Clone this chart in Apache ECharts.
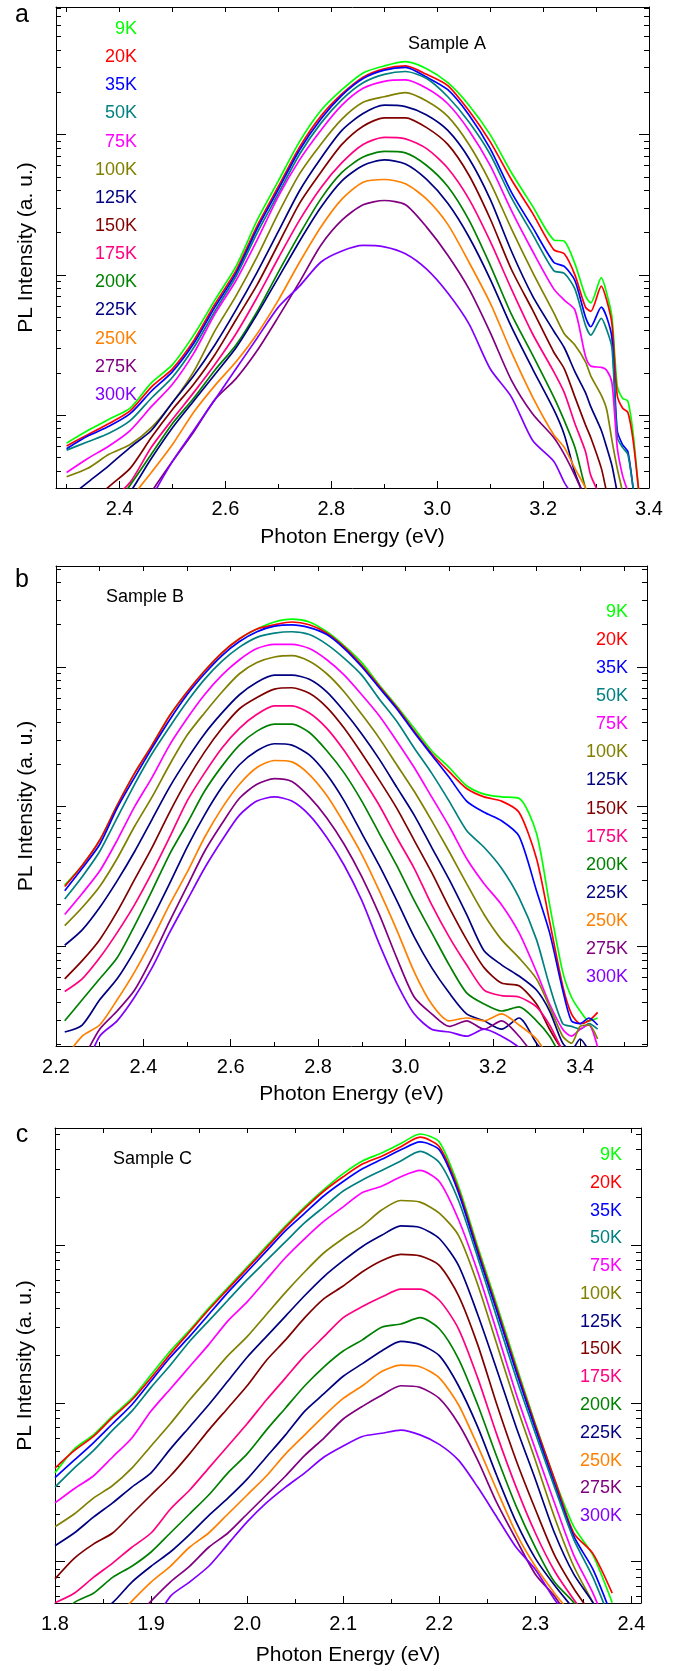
<!DOCTYPE html>
<html>
<head>
<meta charset="utf-8">
<title>PL spectra vs temperature</title>
<script src="https://cdn.jsdelivr.net/npm/echarts@6/dist/echarts.min.js"></script>
<style>
  html, body { margin: 0; padding: 0; background: #fff; }
  #main { width: 681px; height: 1671px; }
</style>
</head>
<body>
<div id="main"></div>
<script>
// temperatures and their line colours
var temps = ['9K', '20K', '35K', '50K', '75K', '100K', '125K', '150K', '175K', '200K', '225K', '250K', '275K', '300K'];
var colors = ['#00ff00', '#ff0000', '#0000ff', '#008080', '#ff00ff', '#808000', '#000080', '#800000', '#ff0080', '#008000', '#000080', '#ff8000', '#800080', '#8000ff'];

// ---- Sample A : photon energy (eV) and log10 PL intensity (a.u.) ----
var energyA = [2.30, 2.34, 2.38, 2.42, 2.46, 2.50, 2.54, 2.58, 2.62, 2.66, 2.70, 2.74, 2.78, 2.82, 2.86, 2.90, 2.94, 2.98, 3.02, 3.06, 3.10, 3.14, 3.18, 3.22, 3.24, 3.26, 3.28, 3.29, 3.31, 3.32, 3.33, 3.34, 3.35, 3.36, 3.37, 3.38, 3.39];
var A9   = [-0.20, -0.11, -0.03, 0.05, 0.23, 0.36, 0.57, 0.82, 1.06, 1.39, 1.67, 1.95, 2.17, 2.32, 2.44, 2.49, 2.52, 2.47, 2.37, 2.21, 2.00, 1.73, 1.49, 1.25, 1.24, 1.08, 0.85, 0.80, 0.98, 0.87, 0.70, 0.21, 0.12, 0.10, -0.13, -0.52, -0.90];
var A20  = [-0.22, -0.14, -0.06, 0.03, 0.20, 0.33, 0.53, 0.79, 1.03, 1.35, 1.63, 1.91, 2.13, 2.29, 2.41, 2.47, 2.49, 2.43, 2.35, 2.17, 1.95, 1.68, 1.44, 1.18, 1.15, 1.00, 0.77, 0.74, 0.92, 0.82, 0.65, 0.14, 0.05, 0.02, -0.18, -0.52, -0.90];
var A35  = [-0.24, -0.15, -0.08, 0.01, 0.17, 0.31, 0.51, 0.77, 1.01, 1.33, 1.61, 1.89, 2.11, 2.28, 2.40, 2.46, 2.48, 2.41, 2.32, 2.14, 1.90, 1.59, 1.34, 1.09, 1.06, 0.96, 0.70, 0.63, 0.77, 0.70, 0.55, -0.11, -0.21, -0.26, -0.52, -0.80, -1.00];
var A50  = [-0.25, -0.19, -0.13, -0.04, 0.12, 0.27, 0.48, 0.74, 0.99, 1.30, 1.58, 1.86, 2.08, 2.25, 2.37, 2.43, 2.45, 2.40, 2.27, 2.09, 1.86, 1.55, 1.29, 1.03, 1.01, 0.90, 0.64, 0.57, 0.69, 0.61, 0.48, -0.16, -0.23, -0.28, -0.52, -0.80, -1.00];
var A75  = [-0.41, -0.31, -0.22, -0.11, 0.06, 0.22, 0.44, 0.72, 0.96, 1.25, 1.56, 1.82, 2.03, 2.21, 2.33, 2.38, 2.39, 2.33, 2.22, 2.03, 1.78, 1.46, 1.17, 0.90, 0.82, 0.75, 0.42, 0.35, 0.34, 0.32, 0.23, -0.23, -0.43, -0.55, -0.80, -1.00, -1.20];
var A100 = [-0.44, -0.38, -0.28, -0.21, -0.09, 0.09, 0.31, 0.60, 0.85, 1.13, 1.44, 1.72, 1.93, 2.11, 2.23, 2.27, 2.30, 2.24, 2.13, 1.93, 1.66, 1.33, 1.02, 0.73, 0.58, 0.50, 0.38, 0.28, 0.14, 0.04, -0.18, -0.38, -0.55, -0.80, -1.00, -1.20, -1.40];
var A125 = [-0.60, -0.48, -0.36, -0.23, -0.11, 0.09, 0.28, 0.50, 0.75, 1.02, 1.31, 1.60, 1.83, 2.03, 2.15, 2.21, 2.20, 2.14, 2.03, 1.83, 1.54, 1.17, 0.85, 0.60, 0.48, 0.31, 0.16, 0.06, -0.11, -0.23, -0.36, -0.55, -0.70, -0.90, -1.10, -1.30, -1.50];
var A150 = [-0.80, -0.65, -0.51, -0.38, -0.16, 0.04, 0.22, 0.43, 0.68, 0.93, 1.22, 1.51, 1.73, 1.93, 2.06, 2.12, 2.12, 2.05, 1.93, 1.71, 1.40, 1.04, 0.75, 0.45, 0.33, 0.13, -0.07, -0.16, -0.38, -0.55, -0.70, -0.90, -1.10, -1.30, -1.50, -1.70, -1.90];
var A175 = [-0.90, -0.75, -0.62, -0.48, -0.23, -0.03, 0.16, 0.36, 0.58, 0.84, 1.12, 1.39, 1.62, 1.80, 1.93, 1.98, 1.97, 1.90, 1.76, 1.54, 1.24, 0.90, 0.58, 0.31, 0.16, -0.06, -0.26, -0.43, -0.60, -0.75, -0.90, -1.10, -1.30, -1.50, -1.70, -1.90, -2.10];
var A200 = [-1.00, -0.85, -0.70, -0.50, -0.28, -0.06, 0.12, 0.32, 0.50, 0.74, 1.02, 1.29, 1.54, 1.73, 1.84, 1.88, 1.87, 1.78, 1.63, 1.39, 1.07, 0.72, 0.43, 0.13, -0.04, -0.23, -0.52, -0.60, -0.80, -1.00, -1.20, -1.40, -1.60, -1.80, -2.00, -2.20, -2.40];
var A225 = [-1.10, -0.90, -0.75, -0.55, -0.31, -0.09, 0.10, 0.29, 0.48, 0.72, 0.98, 1.24, 1.48, 1.67, 1.78, 1.82, 1.79, 1.68, 1.51, 1.27, 0.97, 0.63, 0.33, 0.04, -0.14, -0.41, -0.60, -0.70, -0.90, -1.10, -1.30, -1.50, -1.70, -1.90, -2.10, -2.30, -2.50];
var A250 = [-1.20, -1.00, -0.80, -0.60, -0.41, -0.21, 0.02, 0.21, 0.38, 0.58, 0.82, 1.09, 1.34, 1.54, 1.66, 1.68, 1.65, 1.54, 1.36, 1.09, 0.80, 0.45, 0.13, -0.14, -0.23, -0.38, -0.52, -0.65, -0.85, -1.00, -1.20, -1.40, -1.60, -1.80, -2.00, -2.20, -2.40];
var A275 = [-1.40, -1.20, -1.00, -0.80, -0.55, -0.33, -0.12, 0.11, 0.26, 0.46, 0.70, 0.95, 1.21, 1.39, 1.50, 1.53, 1.50, 1.34, 1.14, 0.90, 0.59, 0.25, 0.01, -0.16, -0.28, -0.43, -0.60, -0.70, -0.90, -1.10, -1.30, -1.50, -1.70, -1.90, -2.10, -2.30, -2.50];
var A300 = [-1.60, -1.40, -1.20, -1.00, -0.60, -0.33, -0.11, 0.11, 0.33, 0.55, 0.77, 0.92, 1.09, 1.17, 1.21, 1.20, 1.15, 1.04, 0.87, 0.65, 0.33, 0.13, -0.18, -0.33, -0.48, -0.60, -0.75, -0.85, -1.00, -1.20, -1.40, -1.60, -1.80, -2.00, -2.20, -2.40, -2.60];

// ---- Sample B ----
var energyB = [2.22, 2.26, 2.30, 2.34, 2.38, 2.42, 2.46, 2.50, 2.54, 2.58, 2.62, 2.66, 2.70, 2.74, 2.78, 2.82, 2.86, 2.90, 2.94, 2.98, 3.02, 3.06, 3.10, 3.14, 3.18, 3.22, 3.26, 3.30, 3.33, 3.36, 3.38, 3.40, 3.42, 3.44];
var B9   = [0.44, 0.58, 0.76, 1.01, 1.24, 1.44, 1.65, 1.82, 1.97, 2.10, 2.20, 2.27, 2.32, 2.34, 2.32, 2.25, 2.15, 2.03, 1.87, 1.72, 1.56, 1.40, 1.28, 1.15, 1.09, 1.07, 1.06, 0.81, 0.30, -0.18, -0.36, -0.46, -0.53, -0.51];
var B20  = [0.43, 0.58, 0.76, 1.01, 1.24, 1.44, 1.65, 1.82, 1.97, 2.10, 2.20, 2.27, 2.30, 2.32, 2.30, 2.24, 2.14, 2.01, 1.86, 1.71, 1.54, 1.38, 1.25, 1.13, 1.07, 1.04, 0.96, 0.63, 0.18, -0.28, -0.48, -0.55, -0.53, -0.47];
var B35  = [0.40, 0.56, 0.73, 0.99, 1.21, 1.42, 1.62, 1.80, 1.95, 2.08, 2.18, 2.25, 2.29, 2.30, 2.28, 2.23, 2.13, 2.00, 1.85, 1.70, 1.53, 1.37, 1.21, 1.04, 0.96, 0.90, 0.79, 0.40, 0.10, -0.31, -0.53, -0.55, -0.51, -0.56];
var B50  = [0.34, 0.50, 0.68, 0.92, 1.16, 1.38, 1.57, 1.75, 1.91, 2.04, 2.14, 2.21, 2.24, 2.25, 2.23, 2.16, 2.06, 1.94, 1.77, 1.61, 1.42, 1.24, 1.04, 0.83, 0.71, 0.56, 0.35, 0.05, -0.28, -0.55, -0.57, -0.59, -0.55, -0.59];
var B75  = [0.23, 0.38, 0.54, 0.76, 1.00, 1.21, 1.44, 1.63, 1.80, 1.94, 2.05, 2.13, 2.16, 2.16, 2.13, 2.05, 1.94, 1.80, 1.65, 1.47, 1.28, 1.07, 0.86, 0.63, 0.45, 0.30, 0.10, -0.18, -0.41, -0.59, -0.64, -0.59, -0.56, -0.72];
var B100 = [0.15, 0.28, 0.43, 0.63, 0.86, 1.07, 1.30, 1.51, 1.67, 1.82, 1.95, 2.03, 2.07, 2.08, 2.04, 1.95, 1.82, 1.66, 1.49, 1.30, 1.11, 0.90, 0.68, 0.45, 0.23, 0.05, -0.08, -0.23, -0.43, -0.64, -0.69, -0.57, -0.56, -0.66];
var B125 = [0.01, 0.12, 0.28, 0.47, 0.68, 0.91, 1.14, 1.34, 1.52, 1.67, 1.80, 1.89, 1.94, 1.94, 1.91, 1.82, 1.68, 1.52, 1.34, 1.14, 0.94, 0.71, 0.48, 0.23, -0.03, -0.13, -0.21, -0.31, -0.46, -0.69, -0.74, -0.66, -0.74, -0.80];
var B150 = [-0.23, -0.10, 0.05, 0.25, 0.48, 0.71, 0.96, 1.19, 1.39, 1.56, 1.70, 1.78, 1.84, 1.85, 1.81, 1.71, 1.56, 1.38, 1.19, 0.99, 0.76, 0.53, 0.28, 0.05, -0.15, -0.26, -0.28, -0.41, -0.59, -0.74, -0.80, -0.85, -0.90, -0.95];
var B175 = [-0.32, -0.23, -0.08, 0.10, 0.30, 0.53, 0.78, 1.04, 1.24, 1.42, 1.56, 1.66, 1.72, 1.72, 1.67, 1.56, 1.40, 1.21, 1.01, 0.78, 0.56, 0.30, 0.07, -0.13, -0.31, -0.35, -0.36, -0.43, -0.56, -0.74, -0.80, -0.85, -0.90, -0.95];
var B200 = [-0.53, -0.38, -0.23, -0.08, 0.15, 0.40, 0.66, 0.88, 1.11, 1.29, 1.44, 1.54, 1.59, 1.59, 1.53, 1.40, 1.24, 1.04, 0.81, 0.58, 0.33, 0.10, -0.13, -0.33, -0.41, -0.46, -0.43, -0.53, -0.64, -0.80, -0.85, -0.90, -0.95, -1.00];
var B225 = [-0.61, -0.56, -0.38, -0.23, -0.03, 0.20, 0.45, 0.71, 0.94, 1.14, 1.30, 1.40, 1.45, 1.44, 1.37, 1.23, 1.04, 0.81, 0.58, 0.33, 0.07, -0.15, -0.33, -0.48, -0.53, -0.59, -0.51, -0.69, -0.80, -0.90, -0.95, -1.00, -1.05, -1.10];
var B250 = [-0.80, -0.64, -0.56, -0.38, -0.18, 0.05, 0.30, 0.53, 0.78, 0.99, 1.16, 1.28, 1.33, 1.32, 1.23, 1.08, 0.88, 0.66, 0.40, 0.12, -0.18, -0.41, -0.53, -0.51, -0.53, -0.48, -0.56, -0.66, -0.80, -0.90, -0.95, -1.00, -1.05, -1.10];
var B275 = [-0.90, -0.80, -0.59, -0.46, -0.31, -0.08, 0.18, 0.43, 0.68, 0.88, 1.06, 1.16, 1.20, 1.18, 1.07, 0.92, 0.73, 0.50, 0.23, -0.08, -0.36, -0.48, -0.57, -0.53, -0.59, -0.53, -0.64, -0.80, -0.90, -1.00, -1.05, -1.10, -1.15, -1.20];
var B300 = [-1.00, -0.90, -0.64, -0.53, -0.36, -0.15, 0.10, 0.33, 0.56, 0.76, 0.94, 1.04, 1.07, 1.04, 0.94, 0.78, 0.58, 0.33, 0.02, -0.26, -0.48, -0.59, -0.61, -0.64, -0.59, -0.64, -0.72, -0.85, -0.95, -1.05, -1.10, -1.15, -1.20, -1.25];

// ---- Sample C ----
var energyC = [1.80, 1.82, 1.84, 1.86, 1.88, 1.90, 1.92, 1.94, 1.96, 1.98, 2.00, 2.02, 2.04, 2.06, 2.08, 2.10, 2.12, 2.14, 2.16, 2.18, 2.20, 2.22, 2.24, 2.26, 2.28, 2.30, 2.32, 2.34, 2.36, 2.38];
var C9   = [0.56, 0.71, 0.80, 0.92, 1.03, 1.18, 1.33, 1.46, 1.60, 1.73, 1.86, 1.99, 2.12, 2.24, 2.35, 2.45, 2.53, 2.58, 2.64, 2.70, 2.65, 2.37, 1.99, 1.62, 1.24, 0.87, 0.52, 0.22, 0.04, -0.26];
var C20  = [0.59, 0.70, 0.79, 0.91, 1.02, 1.16, 1.31, 1.45, 1.59, 1.72, 1.85, 1.98, 2.11, 2.23, 2.34, 2.43, 2.51, 2.56, 2.62, 2.68, 2.62, 2.35, 1.97, 1.60, 1.22, 0.86, 0.52, 0.18, 0.05, -0.20];
var C35  = [0.53, 0.64, 0.75, 0.87, 0.99, 1.14, 1.29, 1.42, 1.56, 1.70, 1.83, 1.96, 2.09, 2.20, 2.31, 2.40, 2.48, 2.54, 2.60, 2.65, 2.60, 2.33, 1.95, 1.58, 1.20, 0.84, 0.49, 0.16, -0.05, -0.35];
var C50  = [0.47, 0.59, 0.70, 0.83, 0.95, 1.10, 1.24, 1.39, 1.52, 1.65, 1.78, 1.90, 2.02, 2.14, 2.24, 2.34, 2.41, 2.47, 2.53, 2.59, 2.52, 2.28, 1.92, 1.54, 1.16, 0.81, 0.47, 0.14, -0.10, -0.40];
var C75  = [0.37, 0.46, 0.54, 0.66, 0.78, 0.95, 1.09, 1.23, 1.37, 1.52, 1.64, 1.78, 1.92, 2.04, 2.15, 2.24, 2.33, 2.37, 2.43, 2.47, 2.40, 2.16, 1.83, 1.45, 1.06, 0.71, 0.37, 0.04, -0.20, -0.50];
var C100 = [0.22, 0.30, 0.40, 0.48, 0.59, 0.73, 0.87, 1.02, 1.16, 1.30, 1.42, 1.56, 1.70, 1.83, 1.95, 2.04, 2.12, 2.22, 2.28, 2.27, 2.20, 2.06, 1.75, 1.37, 0.99, 0.64, 0.28, -0.03, -0.26, -0.50];
var C125 = [0.10, 0.18, 0.28, 0.37, 0.47, 0.56, 0.71, 0.85, 0.99, 1.14, 1.29, 1.42, 1.55, 1.68, 1.80, 1.90, 1.99, 2.06, 2.12, 2.11, 2.04, 1.87, 1.56, 1.21, 0.85, 0.52, 0.18, -0.08, -0.26, -0.50];
var C150 = [-0.11, 0.02, 0.11, 0.18, 0.30, 0.42, 0.54, 0.68, 0.83, 0.97, 1.11, 1.27, 1.40, 1.54, 1.66, 1.74, 1.83, 1.90, 1.94, 1.93, 1.87, 1.68, 1.37, 0.99, 0.64, 0.33, 0.04, -0.17, -0.35, -0.60];
var C175 = [-0.26, -0.20, -0.10, -0.01, 0.09, 0.18, 0.33, 0.45, 0.59, 0.73, 0.87, 1.02, 1.16, 1.30, 1.42, 1.54, 1.61, 1.67, 1.72, 1.72, 1.65, 1.47, 1.16, 0.80, 0.47, 0.18, -0.06, -0.24, -0.40, -0.60];
var C200 = [-0.40, -0.26, -0.20, -0.10, -0.03, 0.06, 0.18, 0.30, 0.42, 0.56, 0.68, 0.83, 0.97, 1.11, 1.23, 1.33, 1.40, 1.48, 1.50, 1.54, 1.47, 1.28, 0.99, 0.66, 0.35, 0.09, -0.13, -0.26, -0.45, -0.65];
var C225 = [-0.50, -0.42, -0.34, -0.26, -0.13, -0.03, 0.06, 0.17, 0.29, 0.40, 0.52, 0.66, 0.80, 0.95, 1.06, 1.17, 1.25, 1.33, 1.39, 1.37, 1.30, 1.11, 0.85, 0.54, 0.25, 0.02, -0.15, -0.30, -0.45, -0.65];
var C250 = [-0.70, -0.60, -0.50, -0.38, -0.25, -0.13, -0.03, 0.09, 0.18, 0.30, 0.42, 0.54, 0.68, 0.80, 0.92, 1.03, 1.11, 1.20, 1.24, 1.23, 1.16, 0.99, 0.73, 0.45, 0.18, -0.03, -0.20, -0.35, -0.50, -0.70];
var C275 = [-0.80, -0.70, -0.60, -0.50, -0.38, -0.25, -0.13, -0.03, 0.09, 0.18, 0.30, 0.42, 0.54, 0.67, 0.78, 0.90, 0.98, 1.05, 1.11, 1.10, 1.03, 0.87, 0.64, 0.37, 0.14, -0.08, -0.22, -0.40, -0.55, -0.75];
var C300 = [-1.00, -0.90, -0.80, -0.70, -0.55, -0.42, -0.22, -0.13, -0.03, 0.11, 0.25, 0.37, 0.47, 0.56, 0.66, 0.73, 0.79, 0.81, 0.83, 0.80, 0.74, 0.64, 0.47, 0.28, 0.09, -0.05, -0.24, -0.40, -0.55, -0.75];

// tick values on the energy axes
var labelsA = [2.4, 2.6, 2.8, 3.0, 3.2, 3.4];
var minorA  = [2.3, 2.5, 2.7, 2.9, 3.1, 3.3];
var labelsB = [2.2, 2.4, 2.6, 2.8, 3.0, 3.2, 3.4];
var minorB  = [2.3, 2.5, 2.7, 2.9, 3.1, 3.3, 3.5];
var labelsC = [1.8, 1.9, 2.0, 2.1, 2.2, 2.3, 2.4];
var minorC  = [1.85, 1.95, 2.05, 2.15, 2.25, 2.35];

var font = 'Liberation Sans, Arial, Helvetica, sans-serif';

var panels = [
  { letter: 'a', sample: 'Sample A', energy: energyA,
    curves: [A9, A20, A35, A50, A75, A100, A125, A150, A175, A200, A225, A250, A275, A300],
    grid: { left: 56, right: 32, top: 7, height: 481 },
    xMin: 2.28, xMax: 3.4, yMin: -0.52, yMax: 2.91, labels: labelsA, minor: minorA,
    nameGap: 39, letterPos: [22, 15], samplePos: [408, 44],
    legend: { left: 86, top: 20, gap: 10.15 } },
  { letter: 'b', sample: 'Sample B', energy: energyB,
    curves: [B9, B20, B35, B50, B75, B100, B125, B150, B175, B200, B225, B250, B275, B300],
    grid: { left: 56, right: 34, top: 566, height: 480 },
    xMin: 2.2, xMax: 3.553, yMin: -0.71, yMax: 2.72, labels: labelsB, minor: minorB,
    nameGap: 38, letterPos: [22, 580], samplePos: [106, 597],
    legend: { left: 577, top: 603, gap: 10.08 } },
  { letter: 'c', sample: 'Sample C', energy: energyC,
    curves: [C9, C20, C35, C50, C75, C100, C125, C150, C175, C200, C225, C250, C275, C300],
    grid: { left: 55, right: 40, top: 1128, height: 475 },
    xMin: 1.8, xMax: 2.41, yMin: -0.262, yMax: 2.738, labels: labelsC, minor: minorC,
    nameGap: 42, letterPos: [22, 1135], samplePos: [113, 1159],
    legend: { left: 571, top: 1146, gap: 9.78 } }
];

function logTicks(min, max, major) {
  var out = [];
  for (var n = Math.floor(min); n <= Math.ceil(max); n++) {
    if (major) { if (n >= min && n <= max) out.push(n); continue; }
    for (var k = 2; k <= 9; k++) {
      var v = n + Math.log10(k);
      if (v >= min && v <= max) out.push(v);
    }
  }
  return out;
}

var grids = [], xAxes = [], yAxes = [], series = [], legends = [], graphics = [];
var black = { color: '#000', width: 1 };

panels.forEach(function (p, pi) {
  grids.push(p.grid);
  var all = p.labels.concat(p.minor).filter(function (v) { return v > p.xMin && v < p.xMax; });

  xAxes.push({
    type: 'value', gridIndex: pi, min: p.xMin, max: p.xMax, position: 'bottom',
    name: 'Photon Energy (eV)', nameLocation: 'middle', nameGap: p.nameGap,
    nameTextStyle: { fontSize: 21, color: '#000', fontFamily: font },
    axisLine: { show: true, onZero: false, lineStyle: black },
    axisTick: { show: true, inside: true, length: 7, customValues: p.labels, lineStyle: black },
    axisLabel: { show: true, customValues: p.labels, margin: 11, fontSize: 20, color: '#000', fontFamily: font,
      formatter: function (v) { return v.toFixed(1); } },
    splitLine: { show: false }
  });
  xAxes.push({
    type: 'value', gridIndex: pi, min: p.xMin, max: p.xMax, position: 'bottom',
    axisLine: { show: false, onZero: false },
    axisTick: { show: true, inside: true, length: 4, customValues: p.minor, lineStyle: black },
    axisLabel: { show: false }, splitLine: { show: false }
  });
  xAxes.push({
    type: 'value', gridIndex: pi, min: p.xMin, max: p.xMax, position: 'top',
    axisLine: { show: true, onZero: false, lineStyle: black },
    axisTick: { show: true, inside: true, length: 5, customValues: all, lineStyle: black },
    axisLabel: { show: false }, splitLine: { show: false }
  });

  var decades = logTicks(p.yMin, p.yMax, true);
  var minors = logTicks(p.yMin, p.yMax, false);
  ['left', 'right'].forEach(function (side) {
    yAxes.push({
      type: 'value', gridIndex: pi, min: p.yMin, max: p.yMax, position: side,
      name: side === 'left' ? 'PL Intensity (a. u.)' : '', nameLocation: 'middle', nameGap: 19,
      nameTextStyle: { fontSize: 21, color: '#000', fontFamily: font },
      axisLine: { show: true, onZero: false, lineStyle: black },
      axisTick: { show: true, inside: true, length: 10, customValues: decades, lineStyle: black },
      axisLabel: { show: false }, splitLine: { show: false }
    });
    yAxes.push({
      type: 'value', gridIndex: pi, min: p.yMin, max: p.yMax, position: side,
      axisLine: { show: false, onZero: false },
      axisTick: { show: true, inside: true, length: 5, customValues: minors, lineStyle: black },
      axisLabel: { show: false }, splitLine: { show: false }
    });
  });

  p.curves.forEach(function (curve, i) {
    series.push({
      type: 'line', name: temps[i], xAxisIndex: pi * 3, yAxisIndex: pi * 4,
      data: p.energy.map(function (x, k) { return [x, curve[k]]; }),
      showSymbol: false, smooth: 0.25, clip: true, silent: true,
      lineStyle: { width: 1.7, color: colors[i] }, itemStyle: { color: colors[i] }
    });
  });

  legends.push({
    orient: 'vertical', left: p.legend.left, top: p.legend.top, itemGap: p.legend.gap,
    itemWidth: 0, itemHeight: 18, icon: 'none', padding: 0, selectedMode: false,
    formatter: '{r|{name}}',
    textStyle: { fontFamily: font, fontSize: 18,
      rich: { r: { width: 46, align: 'right', fontSize: 18, lineHeight: 18, fontFamily: font } } },
    data: temps.map(function (t, i) { return { name: t, textStyle: { color: colors[i] } }; })
  });

  graphics.push({
    type: 'text', x: p.letterPos[0], y: p.letterPos[1],
    style: { text: p.letter, fontSize: 25, fontFamily: font, fill: '#000', align: 'center', verticalAlign: 'middle' }
  });
  graphics.push({
    type: 'text', x: p.samplePos[0], y: p.samplePos[1],
    style: { text: p.sample, fontSize: 18, fontFamily: font, fill: '#000', align: 'left', verticalAlign: 'middle' }
  });
});

var chart = echarts.init(document.getElementById('main'));
chart.setOption({
  animation: false,
  backgroundColor: '#fff',
  grid: grids,
  xAxis: xAxes,
  yAxis: yAxes,
  legend: legends,
  graphic: graphics,
  series: series
});
</script>
</body>
</html>
